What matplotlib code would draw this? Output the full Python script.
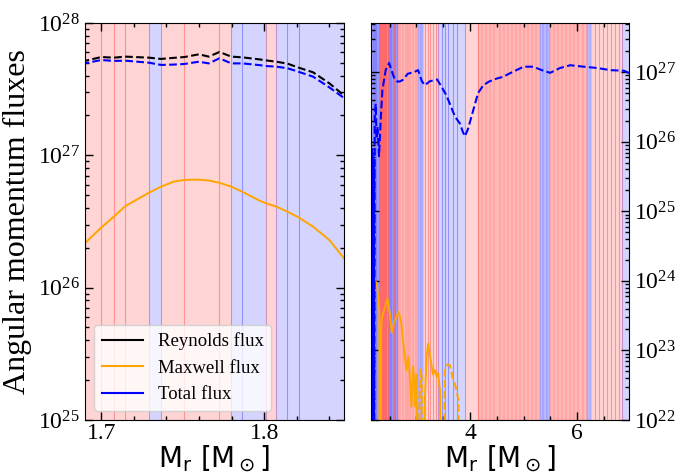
import numpy as np
import matplotlib
matplotlib.use('Agg')
import matplotlib.pyplot as plt
from matplotlib.ticker import MultipleLocator, LogLocator

plt.rcParams['font.family'] = 'serif'
plt.rcParams['font.serif'] = ['Liberation Serif', 'DejaVu Serif']
plt.rcParams['mathtext.fontset'] = 'dejavusans'

# ---- inner zoom: shell around 1.7-1.85 Msun ----
m_in = [1.688, 1.700, 1.7078, 1.7149, 1.7294, 1.7368, 1.7444, 1.7511, 1.760, 1.766, 1.7726,
        1.7798, 1.7867, 1.7976, 1.801, 1.8074, 1.8143, 1.8211, 1.830, 1.840, 1.851]
rey_in = [-5.1e27, -5.53e27, -5.47e27, -5.57e27, -5.47e27, -5.35e27, -5.45e27, -5.53e27, -5.80e27,
          -5.57e27, -6.04e27, -5.57e27, -5.5e27, -5.3e27, -5.22e27, -5.1e27, -4.93e27, -4.6e27,
          -4.24e27, -3.5e27, -2.7e27]
max_in = [2.05e26, 2.84e26, 3.44e26, 4.14e26, 5.22e26, 5.8e26, 6.32e26, 6.52e26, 6.55e26, 6.45e26,
          6.2e26, 5.8e26, 5.3e26, 4.52e26, 4.35e26, 4.1e26, 3.75e26, 3.4e26, 2.89e26, 2.29e26, 1.55e26]
tot_in = [-4.9e27, -5.25e27, -5.17e27, -5.19e27, -5.01e27, -4.82e27, -4.85e27, -4.9e27, -5.1e27,
          -4.95e27, -5.41e27, -4.95e27, -4.95e27, -4.8e27, -4.73e27, -4.68e27, -4.55e27, -4.28e27,
          -3.93e27, -3.26e27, -2.6e27]

# cell boundaries and sign of the zone ('r' / 'b')
cells_in = [1.68, 1.700, 1.7078, 1.7149, 1.7294, 1.7368, 1.7511, 1.7726, 1.7798, 1.7867, 1.801,
            1.8074, 1.8143, 1.8211, 1.86]
sign_in = ['r', 'r', 'r', 'r', 'b', 'r', 'r', 'r', 'b', 'b', 'r', 'b', 'b', 'b']

# ---- whole star ----
m_tot = [2.135, 2.146, 2.152,
         2.153, 2.157, 2.161, 2.165, 2.169, 2.173, 2.177, 2.181, 2.185, 2.189, 2.193, 2.197,
         2.201, 2.205, 2.209,
         2.212, 2.225, 2.243, 2.26, 2.275, 2.305, 2.336, 2.368, 2.43, 2.492, 2.55, 2.60, 2.654,
         2.70, 2.753, 2.84, 2.95, 3.034, 3.10, 3.159, 3.25, 3.389, 3.48, 3.557, 3.626, 3.72,
         3.813, 3.865, 3.907, 3.96, 4.062, 4.15, 4.249, 4.35, 4.498, 4.62, 4.75, 5.0, 5.18,
         5.34, 5.495, 5.68, 5.87, 6.12, 6.37, 6.62, 6.87, 6.96, 7.02]
tot_all = [-6e26, -4e26, -1e20,
           1e20, 6e25, 1e20, 8e25, 1e20, 5e25, 1e20, 7e25, 1e20, 4e25, 1e20, 6e25,
           1e20, 5e25, 1e20,
           -1e20, -2.3e26, -3.5e26, -1.1e26, -1.65e26, -6.2e25, -2.05e26, -5.6e26, -1.08e27,
           -1.36e27, -1.0e27, -7.8e26, -7.3e26, -7.4e26, -7.8e26, -9.5e26, -1.0e27, -1.07e27,
           -7.5e26, -6.5e26, -7.4e26, -7.85e26, -6.0e26, -4.7e26, -3.5e26, -2.3e26, -1.83e26,
           -1.4e26, -1.2e26, -1.5e26, -2.85e26, -5.0e26, -6.5e26, -7.3e26, -8.1e26, -8.6e26,
           -9.7e26, -1.2e27, -1.2e27, -1.07e27, -9.8e26, -1.15e27, -1.26e27, -1.2e27, -1.15e27,
           -1.07e27, -1.05e27, -9.8e26, -9.6e26]

m_max = [2.140, 2.150, 2.158, 2.166, 2.175, 2.21, 2.26, 2.29, 2.31, 2.318, 2.326, 2.336, 2.345,
         2.355, 2.398, 2.462, 2.505, 2.542, 2.585, 2.667, 2.71, 2.772, 2.817, 2.847, 2.879, 2.91,
         2.94, 2.965, 2.985, 3.005, 3.03,
         3.04, 3.06, 3.08, 3.10, 3.115,
         3.125, 3.16, 3.19, 3.221, 3.25, 3.284, 3.31, 3.346, 3.38, 3.407, 3.44, 3.47,
         3.50, 3.533, 3.58, 3.626, 3.68, 3.72, 3.781, 3.832]
max_all = [4e23, 6.8e23, 1.05e24, 1e20, 9e23, 1.0e24, 9.5e23, 6e23, 3.8e23, 1e20, 1.2e23, 1e20,
           2.2e23, 2.8e23, 3.8e23, 5.6e23, 3.4e23, 1.8e23, 2.5e23, 3.6e23, 2.8e23, 1.0e23, 5.2e22,
           8.1e22, 4.2e22, 1.55e22, 5.9e22, 3e22, 1.55e22, 4.5e22, 1e20,
           -1e20, -2e22, -5.3e22, -4e22, -1e20,
           1e20, 2e22, 8e22, 1.26e23, 9e22, 6.1e22, 4.5e22, 5.2e22, 4.2e22, 4.7e22, 2.7e22, 1e20,
           -1e20, -5.2e22, -6.3e22, -6.1e22, -4e22, -3.3e22, -2e22, -1e20]

cells_all = [2.10, 2.163, 2.21, 2.256, 2.318, 2.36, 2.40, 2.44, 2.492, 2.535, 2.579, 2.611, 2.660,
             2.705, 2.75, 2.80, 2.845, 2.89, 2.94, 2.985, 3.034, 3.08, 3.127, 3.17, 3.215, 3.26,
             3.31, 3.36, 3.407, 3.471, 3.533, 3.595, 3.677, 3.763, 3.907, 4.155, 4.23, 4.30, 4.38,
             4.45, 4.56, 4.63, 4.70, 4.78, 4.85, 4.93, 5.00, 5.08, 5.15, 5.23, 5.308, 5.37, 5.43,
             5.495, 5.57, 5.64, 5.72, 5.79, 5.87, 5.94, 6.02, 6.10, 6.181, 6.256, 6.33, 6.40, 6.48,
             6.55, 6.62, 6.70, 6.77, 6.836, 7.05]
sign_all = ['b', 'b', 'b', 'b', 'r', 'r', 'r', 'r', 'b', 'b', 'r', 'b',
            'r', 'r', 'r', 'r', 'r', 'r', 'r', 'r', 'b', 'b',
            'r', 'r', 'r', 'r', 'r', 'r', 'b', 'b', 'b', 'b', 'b', 'b', 'r',
            'r', 'r', 'r', 'r', 'r', 'r', 'r', 'r', 'r', 'r', 'r', 'r', 'r', 'r', 'r',
            'b', 'b', 'b', 'r', 'r', 'r', 'r', 'r', 'r', 'r', 'r', 'r', 'b',
            'r', 'r', 'r', 'r', 'r', 'r', 'r', 'r', 'b']
level_all = [3, 3, 3, 3, 4, 4, 4, 4, 3, 3, 3, 3,
             2, 2, 2, 2, 2, 2, 2, 2, 2, 2,
             1, 1, 1, 1, 1, 1, 1, 1, 1, 1, 1, 1, 1,
             2, 2, 2, 2, 2, 2, 2, 2, 2, 2, 2, 2, 2, 2, 2,
             2, 2, 2, 2, 2, 2, 2, 2, 2, 2, 2, 2, 2,
             1, 1, 1, 1, 1, 1, 1, 1, 1]

alphas = {1: 0.17, 2: 0.28, 3: 0.4, 4: 0.5}
colours = {'r': 'red', 'b': 'blue'}


def shade(ax, edges, signs, levels=None):
    for i in range(len(signs)):
        lev = levels[i] if levels else 1
        # faint cells keep their outline, darker ones are drawn flat
        ax.axvspan(edges[i], edges[i + 1], color=colours[signs[i]], alpha=alphas[lev],
                   lw=0.8 if lev == 1 else 0.25)


def plot_signed(ax, m, f, color):
    f = np.array(f)
    ax.plot(m, np.where(f > 0, f, np.nan), color=color, ls='-', lw=1.4)
    ax.plot(m, np.where(f < 0, -f, np.nan), color=color, ls='--', lw=1.5)


fig = plt.figure(figsize=(6.84, 4.75), dpi=100)
ax1 = fig.add_axes([0.124, 0.1158, 0.379, 0.8358])
ax2 = fig.add_axes([0.542, 0.1158, 0.378, 0.8358])

shade(ax1, cells_in, sign_in)
plot_signed(ax1, m_in, rey_in, 'black')
plot_signed(ax1, m_in, max_in, 'orange')
plot_signed(ax1, m_in, tot_in, 'blue')

shade(ax2, cells_all, sign_all, level_all)
plot_signed(ax2, m_max, max_all, 'orange')
plot_signed(ax2, m_tot, tot_all, 'blue')

for ax in (ax1, ax2):
    ax.set_yscale('log')
    ax.yaxis.set_major_locator(LogLocator(base=10, numticks=20))
    ax.yaxis.set_minor_locator(LogLocator(base=10, subs=np.arange(2, 10), numticks=20))
    ax.tick_params(which='both', direction='in', top=True, bottom=True, left=True, right=True,
                   labelsize=17, width=1.0)
    ax.tick_params(which='major', length=6)
    ax.tick_params(which='minor', length=3)
    ax.tick_params(axis='x', pad=2)
    ax.set_xlabel(r'$\mathrm{M_r\ [M_\odot]}$', fontsize=20, labelpad=0)

ax1.set_xlim(1.690, 1.849)
ax1.set_ylim(1e25, 1e28)
ax1.xaxis.set_major_locator(MultipleLocator(0.1))
ax1.xaxis.set_minor_locator(MultipleLocator(0.02))
ax1.set_ylabel('Angular momentum fluxes', fontsize=23)

ax2.set_xlim(2.15, 6.97)
ax2.set_ylim(1e22, 5.1e27)
ax2.xaxis.set_major_locator(MultipleLocator(2))
ax2.xaxis.set_minor_locator(MultipleLocator(0.5))
ax2.tick_params(labelleft=False, labelright=True)

ax1.plot([], [], color='black', lw=1.5, label='Reynolds flux')
ax1.plot([], [], color='orange', lw=1.5, label='Maxwell flux')
ax1.plot([], [], color='blue', lw=1.5, label='Total flux')
handles, labels = ax1.get_legend_handles_labels()
ax1.legend(handles[-3:], labels[-3:], loc='lower left', fontsize=13.5, handlelength=2.2)

fig.savefig('out.png', dpi=100)
